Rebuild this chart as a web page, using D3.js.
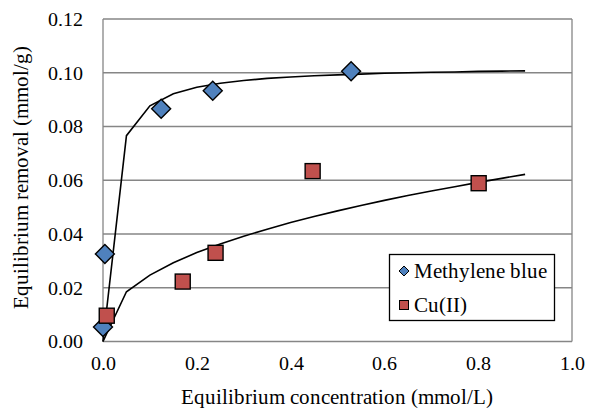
<!DOCTYPE html>
<html><head><meta charset="utf-8">
<script src="https://cdn.jsdelivr.net/npm/d3@7"></script>
<style>
@font-face{font-family:"ChartSerif";src:local("Liberation Serif"),local("LiberationSerif"),local("LiberationSerif-Regular"),local("Times New Roman"),local("DejaVu Serif"),local("DejaVuSerif");}
body{margin:0;background:#fff}svg{display:block}
svg text{font-family:ChartSerif,"Liberation Serif",Tinos,"DejaVu Serif",serif !important;fill:#000}
</style>
</head><body><div id="chart"></div>
<script>
// Data
const mbX = [0.0, 0.004, 0.124, 0.234, 0.529];
const mbY = [0.0054, 0.0326, 0.0866, 0.0933, 0.1006];
const cuX = [0.008, 0.170, 0.240, 0.447, 0.801];
const cuY = [0.0096, 0.0223, 0.0330, 0.0634, 0.0589];
const fitX = [0, 0.05, 0.1, 0.15, 0.2, 0.25, 0.3, 0.35, 0.4, 0.45, 0.5, 0.55, 0.6, 0.65, 0.7, 0.75, 0.8, 0.85, 0.9];
const mbFitY = [0, 0.0766, 0.0877, 0.0922, 0.0946, 0.0961, 0.0971, 0.0979, 0.0984, 0.0989, 0.0992, 0.0995, 0.0998, 0.1000, 0.1002, 0.1003, 0.1005, 0.1006, 0.1007];
const cuFitY = [0, 0.0185, 0.0247, 0.0293, 0.0331, 0.0363, 0.0392, 0.0418, 0.0443, 0.0465, 0.0486, 0.0506, 0.0525, 0.0543, 0.0560, 0.0576, 0.0592, 0.0607, 0.0622];
const xTicks = [0, 0.2, 0.4, 0.6, 0.8, 1.0];
const yTicks = [0, 0.02, 0.04, 0.06, 0.08, 0.10, 0.12];
const seriesNames = ["Methylene blue", "Cu(II)"];

const W = 589, H = 411;
const L = 103, R = 572, T = 19, B = 341.5;
const svg = d3.select("#chart").append("svg").attr("width", W).attr("height", H);
const x = d3.scaleLinear().domain([0, 1]).range([L, R]);
const y = d3.scaleLinear().domain([0, 0.12]).range([B, T]);

// gridlines
svg.append("g").selectAll("line").data(yTicks.filter(d => d > 0)).join("line")
  .attr("x1", L).attr("x2", R).attr("y1", d => y(d)).attr("y2", d => y(d))
  .attr("stroke", "#868686").attr("stroke-width", 1.3);
// frame
svg.append("line").attr("x1", R).attr("x2", R).attr("y1", T).attr("y2", B).attr("stroke", "#868686").attr("stroke-width", 1.3);
svg.append("line").attr("x1", L).attr("x2", L).attr("y1", T).attr("y2", B).attr("stroke", "#868686").attr("stroke-width", 1.3);
svg.append("line").attr("x1", L).attr("x2", R).attr("y1", B).attr("y2", B).attr("stroke", "#868686").attr("stroke-width", 1.3);

// axes labels via d3 axes
const yAxis = svg.append("g").attr("transform", `translate(${L},0)`)
  .call(d3.axisLeft(y).tickValues(yTicks).tickFormat(d3.format(".2f")).tickSize(0).tickPadding(20));
yAxis.attr("font-family", null).attr("font-size", 20);
yAxis.select(".domain").remove();
const xAxis = svg.append("g").attr("transform", `translate(0,${B})`)
  .call(d3.axisBottom(x).tickValues(xTicks).tickFormat(d3.format(".1f")).tickSize(0).tickPadding(14));
xAxis.attr("font-family", null).attr("font-size", 20);
xAxis.select(".domain").remove();

// titles
svg.append("text").attr("x", (L + R) / 2 - 1).attr("y", 404).attr("text-anchor", "middle")
  .attr("font-size", 20.5).text("Equilibrium concentration (mmol/L)");
svg.append("text").attr("transform", `translate(28,${(T + B) / 2 - 3}) rotate(-90)`).attr("text-anchor", "middle")
  .attr("font-size", 20.5).text("Equilibrium removal (mmol/g)");

// fit lines
const line = d3.line().x(d => x(d[0])).y(d => y(d[1]));
svg.append("path").datum(fitX.map((v, i) => [v, mbFitY[i]])).attr("d", line)
  .attr("fill", "none").attr("stroke", "#000").attr("stroke-width", 1.6);
svg.append("path").datum(fitX.map((v, i) => [v, cuFitY[i]])).attr("d", line)
  .attr("fill", "none").attr("stroke", "#000").attr("stroke-width", 1.6);

// markers
const blue = "#4F81BD", red = "#C0504D";
const diamond = s => `M0,${-s}L${s},0L0,${s}L${-s},0Z`;
svg.append("g").selectAll("path").data(mbX.map((v, i) => [v, mbY[i]])).join("path")
  .attr("d", diamond(9.5)).attr("transform", d => `translate(${x(d[0])},${y(d[1])})`)
  .attr("fill", blue).attr("stroke", "#000").attr("stroke-width", 1.4);
svg.append("g").selectAll("rect").data(cuX.map((v, i) => [v, cuY[i]])).join("rect")
  .attr("x", d => x(d[0]) - 7.5).attr("y", d => y(d[1]) - 7.5).attr("width", 15).attr("height", 15)
  .attr("fill", red).attr("stroke", "#000").attr("stroke-width", 1.4);

// legend
const lg = svg.append("g");
lg.append("rect").attr("x", 389.5).attr("y", 254.5).attr("width", 165).attr("height", 66)
  .attr("fill", "#fff").attr("stroke", "#000").attr("stroke-width", 1.3);
lg.append("path").attr("d", diamond(5)).attr("transform", "translate(404,271)")
  .attr("fill", blue).attr("stroke", "#000").attr("stroke-width", 1);
lg.append("rect").attr("x", 399.5).attr("y", 300.5).attr("width", 9).attr("height", 9)
  .attr("fill", red).attr("stroke", "#000").attr("stroke-width", 1);
lg.append("text").attr("x", 414).attr("y", 278).attr("font-size", 20.5).text(seriesNames[0]);
lg.append("text").attr("x", 414).attr("y", 312).attr("font-size", 20.5).text(seriesNames[1]);
</script></body></html>
